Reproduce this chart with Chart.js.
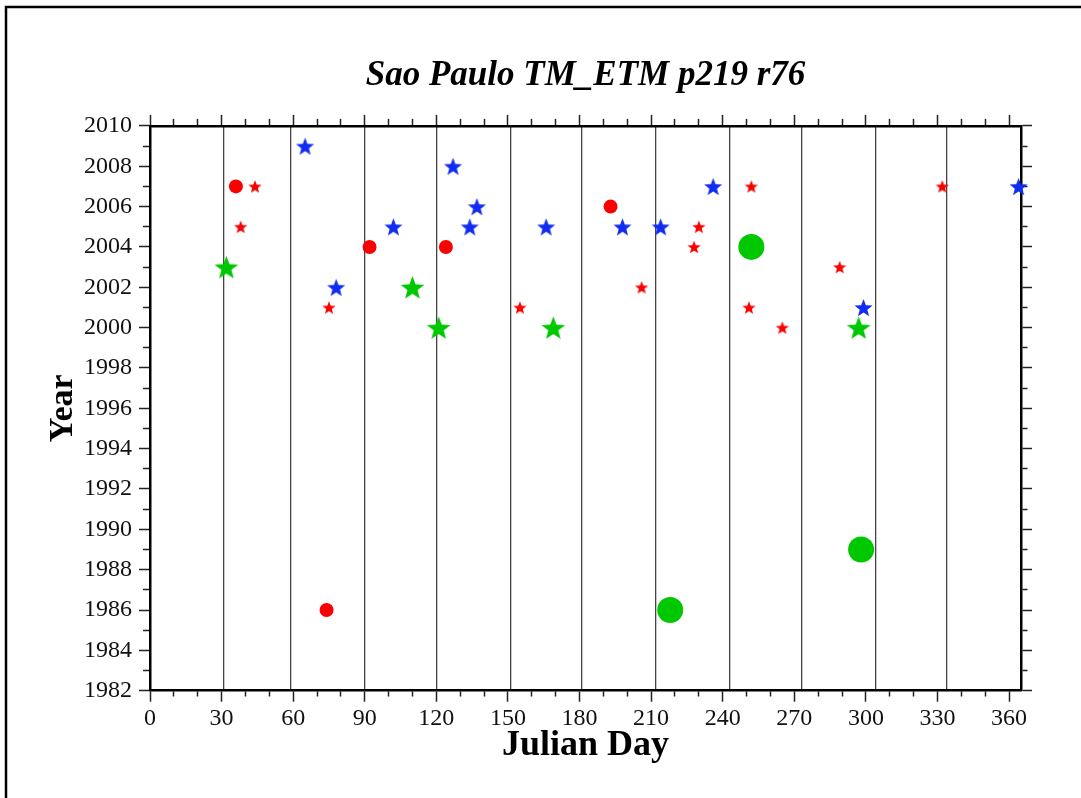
<!DOCTYPE html>
<html>
<head>
<meta charset="utf-8">
<script src="https://cdn.jsdelivr.net/npm/chart.js@4/dist/chart.umd.min.js"></script>
<style>
  html, body { margin: 0; padding: 0; background: #fff; }
  canvas { display: block; }
</style>
</head>
<body>
<canvas id="julian" width="1081" height="798"></canvas>
<script>
// axis ticks
var xLabelDays = [0, 30, 60, 90, 120, 150, 180, 210, 240, 270, 300, 330, 360];
var xTickDays = [0, 10, 20, 30, 40, 50, 60, 70, 80, 90, 100, 110, 120, 130, 140, 150, 160, 170, 180,
                 190, 200, 210, 220, 230, 240, 250, 260, 270, 280, 290, 300, 310, 320, 330, 340, 350, 360];
var monthEnds = [31, 59, 90, 120, 151, 181, 212, 243, 273, 304, 334];
var yearTicks = [1982, 1983, 1984, 1985, 1986, 1987, 1988, 1989, 1990, 1991, 1992, 1993, 1994, 1995,
                 1996, 1997, 1998, 1999, 2000, 2001, 2002, 2003, 2004, 2005, 2006, 2007, 2008, 2009, 2010];

// scenes, by marker
var redCircleDays = [36, 74, 92, 124, 193];
var redCircleYears = [2007, 1986, 2004, 2004, 2006];

var redStarDays = [44, 38, 75, 155, 206, 228, 230, 252, 251, 265, 289, 332];
var redStarYears = [2007, 2005, 2001, 2001, 2002, 2004, 2005, 2007, 2001, 2000, 2003, 2007];

var blueStarDays = [65, 78, 102, 127, 137, 134, 166, 198, 214, 236, 299, 364];
var blueStarYears = [2009, 2002, 2005, 2008, 2006, 2005, 2005, 2005, 2005, 2007, 2001, 2007];

var greenStarDays = [32, 110, 121, 169, 297];
var greenStarYears = [2003, 2002, 2000, 2000, 2000];

var greenCircleDays = [252, 218, 298];
var greenCircleYears = [2004, 1986, 1989];

var RED = 'rgb(250, 0, 0)';
var BLUE = 'rgb(16, 44, 240)';
var GREEN = 'rgb(0, 200, 0)';
var SERIF = "'Liberation Serif', 'Times New Roman', serif";

function points(days, years) {
    return days.map(function (d, i) { return { x: d, y: years[i] }; });
}

// filled five point star, used as pointStyle image
function starImage(color, R) {
    var s = Math.ceil(R * 2 + 2);
    var c = document.createElement('canvas');
    c.width = s; c.height = s;
    var g = c.getContext('2d');
    g.translate(s / 2, s / 2 + R * 0.1);
    g.beginPath();
    for (var i = 0; i < 10; i++) {
        var r = (i % 2) ? R * 0.42 : R;
        var a = -Math.PI / 2 + i * Math.PI / 5;
        if (i === 0) g.moveTo(r * Math.cos(a), r * Math.sin(a));
        else g.lineTo(r * Math.cos(a), r * Math.sin(a));
    }
    g.closePath();
    g.fillStyle = color;
    g.fill();
    return c;
}

function isMajorDay(ctx) { return ctx.tick && ctx.tick.value % 30 === 0; }
function isMajorYear(ctx) { return ctx.tick && ctx.tick.value % 2 === 0; }

var frame = {
    id: 'frame',
    afterDraw: function (chart) {
        var c = chart.ctx;
        c.save();
        c.strokeStyle = '#000';
        c.lineWidth = 2.5;
        c.beginPath();
        c.moveTo(6, 798);
        c.lineTo(6, 7);
        c.lineTo(1081, 7);
        c.stroke();
        c.restore();
    }
};

var tickGrid = {
    drawOnChartArea: false,
    tickLength: 11,
    tickColor: '#222',
    tickWidth: 1.5
};

var ctxj = document.getElementById('julian');
var julianchart = new Chart(ctxj, {
    type: 'scatter',
    data: {
        datasets: [{
            label: 'green circle',
            data: points(greenCircleDays, greenCircleYears),
            pointStyle: 'circle',
            pointRadius: 13,
            backgroundColor: GREEN,
            borderWidth: 0,
            clip: false
        }, {
            label: 'red circle',
            data: points(redCircleDays, redCircleYears),
            pointStyle: 'circle',
            pointRadius: 7,
            backgroundColor: RED,
            borderWidth: 0,
            clip: false
        }, {
            label: 'red star',
            data: points(redStarDays, redStarYears),
            pointStyle: starImage(RED, 7),
            pointRadius: 7,
            clip: false
        }, {
            label: 'blue star',
            data: points(blueStarDays, blueStarYears),
            pointStyle: starImage(BLUE, 9.5),
            pointRadius: 9,
            clip: false
        }, {
            label: 'green star',
            data: points(greenStarDays, greenStarYears),
            pointStyle: starImage(GREEN, 12.5),
            pointRadius: 12,
            clip: false
        }]
    },
    options: {
        responsive: false,
        animation: false,
        devicePixelRatio: 1,
        layout: { padding: 0 },
        plugins: {
            legend: { display: false },
            tooltip: { enabled: false },
            title: {
                display: true,
                text: 'Sao Paulo TM_ETM p219 r76',
                fullSize: false,
                color: '#000',
                font: { family: SERIF, size: 35, weight: 'bold', style: 'italic' },
                padding: { top: 55, bottom: 0 }
            }
        },
        scales: {
            x: {
                type: 'linear',
                position: 'bottom',
                min: 0,
                max: 365,
                afterBuildTicks: function (s) { s.ticks = xTickDays.map(function (v) { return { value: v }; }); },
                afterFit: function (s) { s.height = 107.3; },
                ticks: {
                    autoSkip: false,
                    maxRotation: 0,
                    padding: 3,
                    color: '#111',
                    font: { family: SERIF, size: 24 },
                    callback: function (v) { return xLabelDays.indexOf(v) >= 0 ? String(v) : ''; }
                },
                grid: Object.assign({}, tickGrid, {
                    tickBorderDash: function (ctx) { return isMajorDay(ctx) ? [] : [5, 100]; }
                }),
                border: { color: '#000', width: 2.5 },
                title: {
                    display: true,
                    text: 'Julian Day',
                    color: '#000',
                    font: { family: SERIF, size: 36, weight: 'bold' },
                    padding: { top: 0, bottom: 31 }
                }
            },
            xMonth: {
                type: 'linear',
                position: 'bottom',
                min: 0,
                max: 365,
                afterBuildTicks: function (s) { s.ticks = monthEnds.map(function (v) { return { value: v }; }); },
                afterFit: function (s) { s.height = 0; },
                ticks: { display: false },
                grid: { drawTicks: false, color: '#444', lineWidth: 1.3 },
                border: { display: false }
            },
            xTop: {
                type: 'linear',
                position: 'top',
                min: 0,
                max: 365,
                afterBuildTicks: function (s) { s.ticks = xTickDays.map(function (v) { return { value: v }; }); },
                afterFit: function (s) { s.height = 28.9; },
                ticks: { display: false },
                grid: Object.assign({}, tickGrid, {
                    tickBorderDash: function (ctx) { return isMajorDay(ctx) ? [] : [20, 4]; },
                    tickBorderDashOffset: function (ctx) { return isMajorDay(ctx) ? 0 : 20; }
                }),
                border: { color: '#000', width: 2.5 }
            },
            y: {
                type: 'linear',
                position: 'left',
                min: 1982,
                max: 2010,
                afterBuildTicks: function (s) { s.ticks = yearTicks.map(function (v) { return { value: v }; }); },
                afterFit: function (s) { s.width = 150; },
                ticks: {
                    autoSkip: false,
                    padding: 7,
                    color: '#111',
                    font: { family: SERIF, size: 24 },
                    callback: function (v) { return v % 2 === 0 ? String(v) : ''; }
                },
                grid: Object.assign({}, tickGrid, {
                    tickBorderDash: function (ctx) { return isMajorYear(ctx) ? [] : [20, 4]; },
                    tickBorderDashOffset: function (ctx) { return isMajorYear(ctx) ? 0 : 20; }
                }),
                border: { color: '#000', width: 2.5 },
                title: {
                    display: true,
                    text: 'Year',
                    color: '#000',
                    font: { family: SERIF, size: 34, weight: 'bold' },
                    padding: { top: 42.6, bottom: 0 }
                }
            },
            yRight: {
                type: 'linear',
                position: 'right',
                min: 1982,
                max: 2010,
                afterBuildTicks: function (s) { s.ticks = yearTicks.map(function (v) { return { value: v }; }); },
                afterFit: function (s) { s.width = 60; },
                ticks: { display: false },
                grid: Object.assign({}, tickGrid, {
                    tickBorderDash: function (ctx) { return isMajorYear(ctx) ? [] : [5, 100]; }
                }),
                border: { color: '#000', width: 2.5 }
            }
        }
    },
    plugins: [frame]
});
</script>
</body>
</html>
